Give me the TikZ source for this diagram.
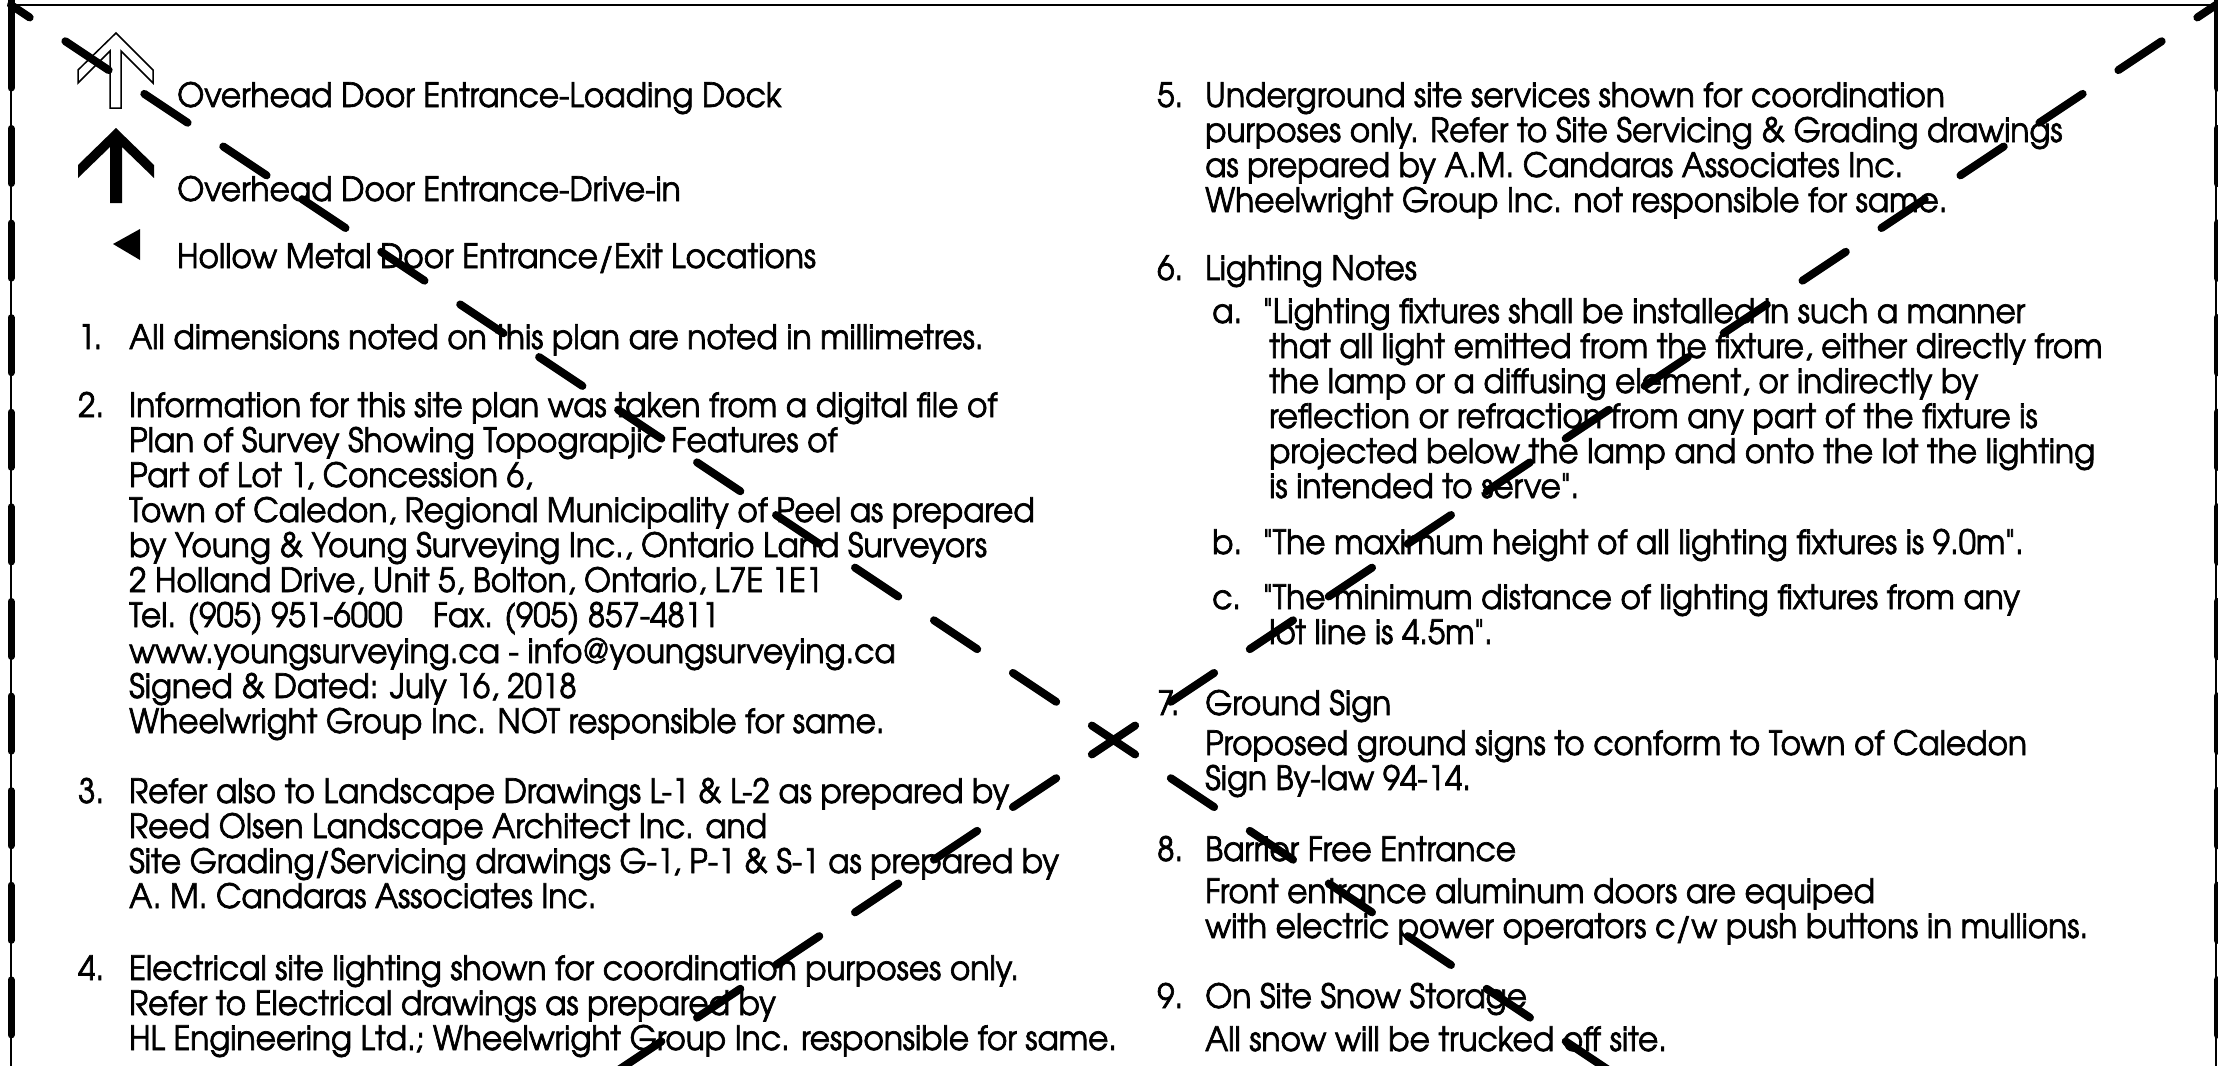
\documentclass[tikz,border=0pt]{standalone}
\usepackage{fontspec}
\IfFontExistsTF{TeX Gyre Adventor}
  {\setmainfont[FakeStretch=0.932,FakeBold=2,Ligatures=TeXOff]{TeX Gyre Adventor}}
  {\setmainfont[FakeStretch=0.85,FakeBold=2,Ligatures=TeXOff]{Poppins}}
\newcounter{lnum}
\newcommand\txtline[2]{\stepcounter{lnum}\node[txt] (line\arabic{lnum}) at (#1) {#2};}
\begin{document}
\begin{tikzpicture}[x=1pt,y=-1pt,
  txt/.style={anchor=base west, inner sep=0pt, font=\fontsize{33.5}{35}\selectfont},
  diag/.style={line width=8pt, line cap=round, dash pattern=on 52pt off 42.9pt, dash phase=26pt},
  bthin/.style={line width=2.5pt},
  bthick/.style={line width=7pt, line cap=round},
  icon/.style={line width=1.5pt, line join=miter}]
\useasboundingbox (0,0) rectangle (2218,1065);
\fill[white] (0,0) rectangle (2218,1065);
\clip (0,0) rectangle (2218,1065);
% sheet corners
\coordinate (TL) at (11,5);
\coordinate (TR) at (2216,5);
\coordinate (BL) at (11,1475);
\coordinate (BR) at (2216,1475);
\coordinate (C) at (1113.5,740);
% borders
\draw[bthin] (TL) -- (TR);
\draw[bthin] (11,0) -- (BL);
\draw[bthin] (2216,0) -- (BR);
\coordinate (LA) at (11,0); \coordinate (LB) at (11,88);
\coordinate (LC) at (11,128.5);
\coordinate (RA) at (2217,0); \coordinate (RB) at (2217,88);
\coordinate (RC) at (2217,128.5);
\coordinate (LE) at (11,1475); \coordinate (RE) at (2217,1475);
\draw[bthick] (LA) -- (LB);
\draw[bthick] (RA) -- (RB);
\draw[bthick, dash pattern=on 55pt off 39.6pt] (LC) -- (LE);
\draw[bthick, dash pattern=on 55pt off 39.6pt] (RC) -- (RE);
% diagonals
\draw[diag] (C) -- (TL);
\draw[diag] (C) -- (TR);
\draw[diag] (C) -- (BL);
\draw[diag] (C) -- (BR);
% icons
\draw[icon] (116,33) -- (153,70) -- (153,83) -- (121,51) -- (121,108) -- (110,108) -- (110,51) -- (78,83) -- (78,70) -- cycle;
\fill (116,128) -- (154,165) -- (154,178) -- (122,147) -- (122,203) -- (110,203) -- (110,147) -- (78,178) -- (78,165) -- cycle;
\fill (113,244) -- (140,229) -- (140,260) -- cycle;
% left column
\txtline{177,107}{Overhead Door Entrance-Loading Dock}
\txtline{177,201}{Overhead Door Entrance-Drive-in}
\txtline{177,268}{Hollow Metal Door Entrance/Exit Locations}
\txtline{78,349}{1.}
\txtline{129,349}{All dimensions noted on this plan are noted in millimetres.}
\txtline{78,417}{2.}
\txtline{129,417}{Information for this site plan was taken from a digital file of}
\txtline{129,452}{Plan of Survey Showing Topograpjic Features of}
\txtline{129,487}{Part of Lot 1, Concession 6,}
\txtline{129,522}{Town of Caledon, Regional Municipality of Peel as prepared}
\txtline{129,557}{by Young \& Young Surveying Inc., Ontario Land Surveyors}
\txtline{129,592}{2 Holland Drive, Unit 5, Bolton, Ontario, L7E 1E1}
\txtline{129,627}{Tel. (905) 951-6000\hspace{0.9em}Fax. (905) 857-4811}
\txtline{129,663}{www.youngsurveying.ca - info@youngsurveying.ca}
\txtline{129,698}{Signed \& Dated: July 16, 2018}
\txtline{129,733}{Wheelwright Group Inc. NOT responsible for same.}
\txtline{78,803}{3.}
\txtline{129,803}{Refer also to Landscape Drawings L-1 \& L-2 as prepared by}
\txtline{129,838}{Reed Olsen Landscape Architect Inc. and}
\txtline{129,873}{Site Grading/Servicing drawings G-1, P-1 \& S-1 as prepared by}
\txtline{129,908}{A. M. Candaras Associates Inc.}
\txtline{78,980}{4.}
\txtline{129,980}{Electrical site lighting shown for coordination purposes only.}
\txtline{129,1015}{Refer to Electrical drawings as prepared by}
\txtline{129,1050}{HL Engineering Ltd.; Wheelwright Group Inc. responsible for same.}
% right column
\txtline{1157,107}{5.}
\txtline{1205,107}{Underground site services shown for coordination}
\txtline{1205,142}{purposes only. Refer to Site Servicing \& Grading drawings}
\txtline{1205,177}{as prepared by A.M. Candaras Associates Inc.}
\txtline{1205,212}{Wheelwright Group Inc. not responsible for same.}
\txtline{1157,280}{6.}
\txtline{1205,280}{Lighting Notes}
\txtline{1212,323}{a.}
\txtline{1263,323}{"Lighting fixtures shall be installed in such a manner}
\txtline{1269,358}{that all light emitted from the fixture, either directly from}
\txtline{1269,393}{the lamp or a diffusing element, or indirectly by}
\txtline{1269,428}{reflection or refraction from any part of the fixture is}
\txtline{1269,463}{projected below the lamp and onto the lot the lighting}
\txtline{1269,498}{is intended to serve".}
\txtline{1212,554}{b.}
\txtline{1263,554}{"The maximum height of all lighting fixtures is 9.0m".}
\txtline{1212,609}{c.}
\txtline{1263,609}{"The minimum distance of lighting fixtures from any}
\txtline{1269,644}{lot line is 4.5m".}
\txtline{1157,715}{7.}
\txtline{1205,715}{Ground Sign}
\txtline{1205,755}{Proposed ground signs to conform to Town of Caledon}
\txtline{1205,790}{Sign By-law 94-14.}
\txtline{1157,861}{8.}
\txtline{1205,861}{Barrier Free Entrance}
\txtline{1205,903}{Front entrance aluminum doors are equiped}
\txtline{1205,938}{with electric power operators c/w push buttons in mullions.}
\txtline{1157,1008}{9.}
\txtline{1205,1008}{On Site Snow Storage}
\txtline{1205,1051}{All snow will be trucked off site.}
\end{tikzpicture}
\end{document}
